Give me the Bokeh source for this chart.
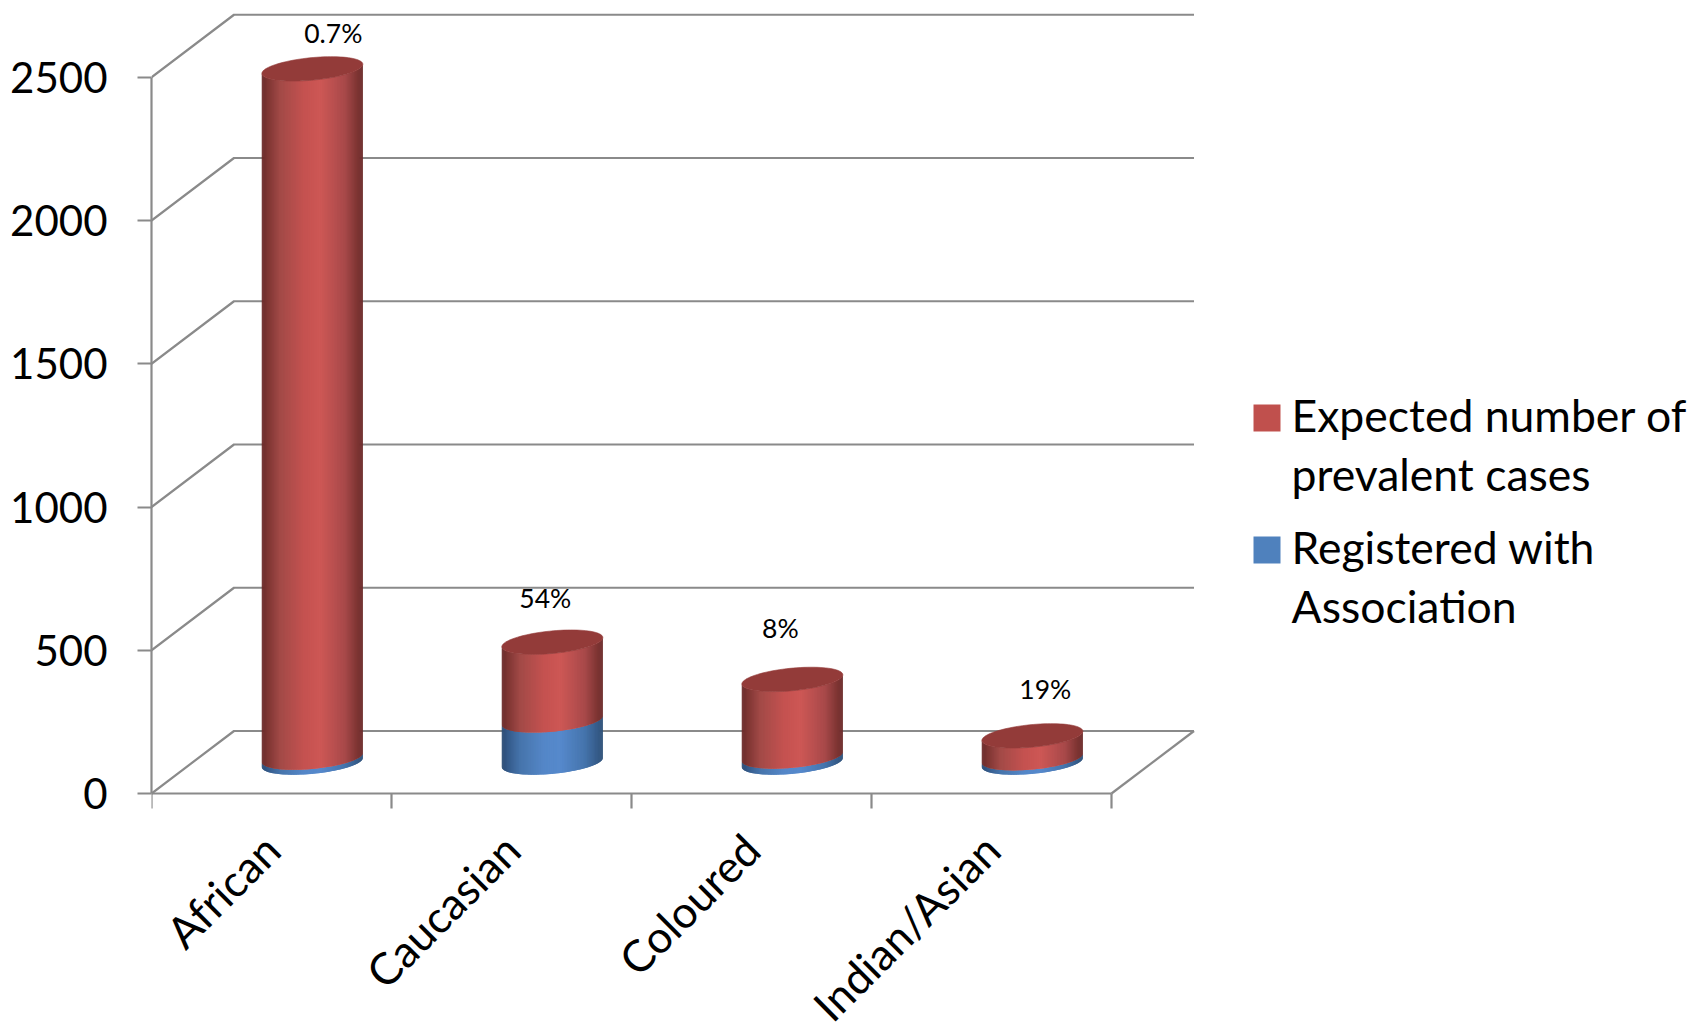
import numpy as np
from bokeh.core.properties import value
from bokeh.embed import file_html
from bokeh.models import FixedTicker, LinearAxis, Range1d
from bokeh.plotting import figure
from bokeh.resources import INLINE

categories = ["African", "Caucasian", "Coloured", "Indian/Asian"]
expected_cases = [2404, 273, 269, 78]
registered = [17, 147, 21, 15]
share_labels = ["0.7%", "54%", "8%", "19%"]
y_ticks = [0, 500, 1000, 1500, 2000, 2500]
legend_lines = [["Expected number of", "prevalent cases"], ["Registered with", "Association"]]

# Page layout in pixels; the value axis starts at y = FRAME_BOTTOM
WIDTH, HEIGHT = 1690, 1027
FRAME_LEFT, FRAME_BOTTOM = 151, 793
PX_PER_CAT = 240.0
PX_PER_UNIT = 143.25 / 500

# Oblique projection of the chart box
DEPTH_X = 82.5 / PX_PER_CAT
DEPTH_Y = 62.5 / PX_PER_UNIT

# Cylinder shape, in data units
RADIUS_X = 50.5 / PX_PER_CAT
ELLIPSE_B = 11.3 / PX_PER_UNIT
ELLIPSE_T = 4.6 / PX_PER_UNIT
CENTER_LIFT = 31 / PX_PER_UNIT

GRID = "#8a8a8a"
TEXT_FONT = "Lato"


def data_x(px):
    return (px - FRAME_LEFT) / PX_PER_CAT


def data_y(py):
    return (FRAME_BOTTOM - py) / PX_PER_UNIT


# The plot area runs to the bottom of the page so the diagonal category
# names below the floor stay inside it
p = figure(
    width=WIDTH, height=HEIGHT, output_backend="svg", toolbar_location=None,
    x_range=Range1d(0, data_x(WIDTH)), y_range=Range1d(data_y(HEIGHT), data_y(0)),
    x_axis_type=None, y_axis_type=None,
    min_border_left=FRAME_LEFT, min_border_right=0, min_border_top=0, min_border_bottom=0,
    outline_line_color=None, background_fill_color="white", border_fill_color="white",
)
p.grid.visible = False

# Axes on the front of the box
y_axis = LinearAxis(ticker=FixedTicker(ticks=y_ticks), bounds=(0, 2500))
y_axis.axis_line_color = GRID
y_axis.axis_line_width = 2.2
y_axis.major_tick_line_color = GRID
y_axis.major_tick_line_width = 2.2
y_axis.major_tick_out = 14
y_axis.major_tick_in = 0
y_axis.minor_tick_line_color = None
y_axis.major_label_standoff = 30
y_axis.major_label_text_font = TEXT_FONT
y_axis.major_label_text_font_size = "42px"
y_axis.major_label_text_color = "black"
p.add_layout(y_axis, "left")

n_cat = len(categories)
x_axis = LinearAxis(
    ticker=FixedTicker(ticks=[i + 0.5 for i in range(n_cat)], minor_ticks=list(range(n_cat + 1))),
    bounds=(0, n_cat),
    fixed_location=0,
    major_label_overrides={i + 0.5: c for i, c in enumerate(categories)},
)
x_axis.axis_line_color = GRID
x_axis.axis_line_width = 2.2
x_axis.major_tick_line_color = None
x_axis.minor_tick_line_color = GRID
x_axis.minor_tick_line_width = 2.2
x_axis.minor_tick_out = 15
x_axis.minor_tick_in = 0
x_axis.major_label_orientation = np.pi / 4
x_axis.major_label_standoff = 33
x_axis.major_label_text_font = TEXT_FONT
x_axis.major_label_text_font_size = "44px"
x_axis.major_label_text_color = "black"
p.add_layout(x_axis, "below")

# Walls and floor of the box
wall_xs, wall_ys = [], []
for tick in y_ticks:
    wall_xs.append([0, DEPTH_X, n_cat + DEPTH_X])
    wall_ys.append([tick, tick + DEPTH_Y, tick + DEPTH_Y])
wall_xs.append([n_cat, n_cat + DEPTH_X])
wall_ys.append([0, DEPTH_Y])
p.multi_line(wall_xs, wall_ys, line_color=GRID, line_width=2.2)

# Horizontal shading across a cylinder, from its left edge to its right edge
SHADE_STOPS = [0.0, 0.06, 0.18, 0.42, 0.58, 0.82, 0.95, 1.0]
RED_SHADE = ["#6a2a29", "#7e3533", "#a24a47", "#c55250", "#cd5755", "#a8494a", "#7c3432", "#6b2b2a"]
BLUE_SHADE = ["#2b4c74", "#345a8a", "#4674ab", "#5487c8", "#5689cc", "#4574ac", "#355b88", "#2d4f77"]
TOP_COLOR = "#933b39"


def shade(colors, t):
    rgb = np.array([[int(c[i:i + 2], 16) for i in (1, 3, 5)] for c in colors], float)
    channels = [np.interp(t, SHADE_STOPS, rgb[:, k]) for k in range(3)]
    return "#%02x%02x%02x" % tuple(int(round(c)) for c in channels)


def front_arc(u, level):
    return level + CENTER_LIFT - ELLIPSE_B * np.sqrt(np.clip(1 - u * u, 0, 1)) + ELLIPSE_T * u


def band(center, low, high, colors):
    """Vertical strips forming the visible side of a cylinder between two levels.

    Each strip runs on under its right-hand neighbour so no seams show.
    """
    us = -np.cos(np.linspace(0, np.pi, 90))
    xs, ys, fills = [], [], []
    for k in range(len(us) - 1):
        u0, u1 = us[k], us[min(k + 2, len(us) - 1)]
        x0, x1 = center + RADIUS_X * u0, center + RADIUS_X * u1
        xs.append([x0, x1, x1, x0])
        ys.append([front_arc(u0, low), front_arc(u1, low), front_arc(u1, high), front_arc(u0, high)])
        fills.append(shade(colors, (0.5 * (us[k] + us[k + 1]) + 1) / 2))
    p.patches(xs, ys, fill_color=fills, line_color=None)


for i, (reg, exp) in enumerate(zip(registered, expected_cases)):
    center = i + 0.5 + 81.7 / PX_PER_CAT * 0.5
    total = reg + exp
    band(center, 0, reg, BLUE_SHADE)
    band(center, reg, total, RED_SHADE)
    t = np.linspace(0, 2 * np.pi, 90)
    p.patch(
        center + RADIUS_X * np.cos(t),
        total + CENTER_LIFT + ELLIPSE_B * np.sin(t) + ELLIPSE_T * np.cos(t),
        fill_color=TOP_COLOR, line_color=TOP_COLOR, line_width=0.6,
    )

# Share labels sit above each cylinder, nudged by hand
label_dx_px = [21, -7, -12, 13]
label_dy_px = [36, 44, 51, 47]
for i, text in enumerate(share_labels):
    total = registered[i] + expected_cases[i]
    p.text(
        [i + 0.5 + 81.7 / PX_PER_CAT * 0.5 + label_dx_px[i] / PX_PER_CAT],
        [total + CENTER_LIFT + label_dy_px[i] / PX_PER_UNIT],
        text=[text], text_font=value(TEXT_FONT), text_font_size="26.5px",
        text_color="black", text_align="center", text_baseline="middle",
    )

# Legend
swatch_colors = ["#c0504d", "#4f81bd"]
swatch_top_px = [404, 536]
text_baselines_px = [[414, 473], [546, 605]]
for color, top, lines, baselines in zip(swatch_colors, swatch_top_px, legend_lines, text_baselines_px):
    p.quad(left=[data_x(1253)], right=[data_x(1280)], top=[data_y(top)], bottom=[data_y(top + 27)],
           fill_color=color, line_color=None)
    for line, base in zip(lines, baselines):
        p.text([data_x(1291)], [data_y(base)], text=[line], text_font=value(TEXT_FONT),
               text_font_size="44.5px", text_color="black", text_align="left", text_baseline="alphabetic")

open("out.html", "w").write(file_html(p, INLINE))
